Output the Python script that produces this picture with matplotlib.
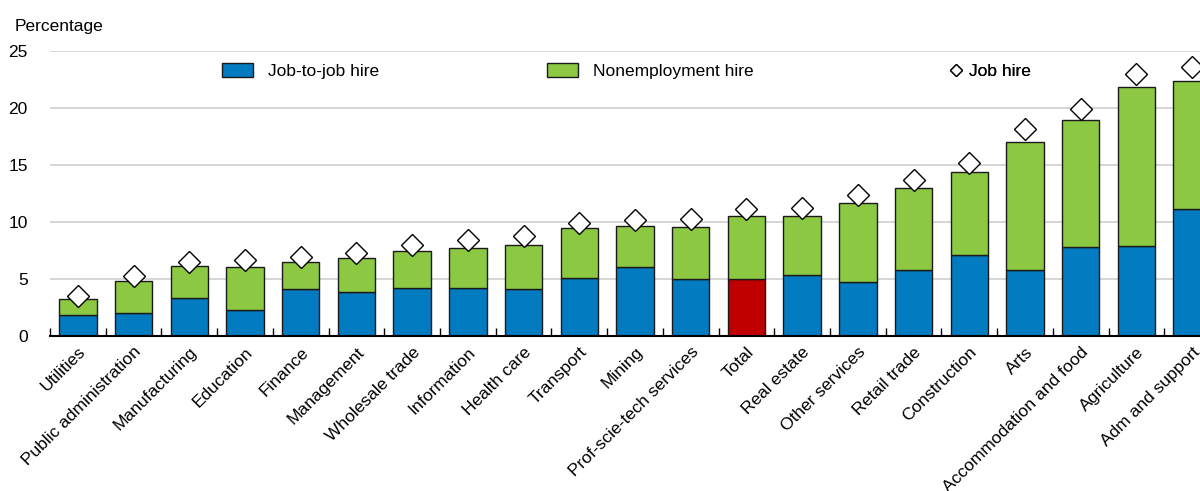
import numpy as np
import matplotlib
matplotlib.use("Agg")
import matplotlib.pyplot as plt
from matplotlib.lines import Line2D
from matplotlib.patches import Patch

plt.rcParams['font.family'] = ['Liberation Sans', 'DejaVu Sans']

categories = ["Utilities", "Public administration", "Manufacturing", "Education", "Finance",
	"Management", "Wholesale trade", "Information", "Health care", "Transport", "Mining",
	"Prof-scie-tech services", "Total", "Real estate", "Other services", "Retail trade",
	"Construction", "Arts", "Accommodation and food", "Agriculture", "Adm and support"]
job_to_job = [1.84, 2.05, 3.36, 2.25, 4.12, 3.89, 4.24, 4.18, 4.09, 5.06, 6.05,
	5.00, 5.02, 5.35, 4.76, 5.81, 7.13, 5.76, 7.83, 7.92, 11.13]
nonemployment = [1.40, 2.77, 2.77, 3.83, 2.34, 2.95, 3.24, 3.53, 3.91, 4.38, 3.59,
	4.58, 5.50, 5.20, 6.90, 7.19, 7.21, 11.27, 11.13, 13.90, 11.25]
job_hire = [3.50, 5.26, 6.49, 6.63, 6.92, 7.25, 7.95, 8.41, 8.74, 9.93, 10.17,
	10.25, 11.16, 11.19, 12.36, 13.67, 15.13, 18.17, 19.90, 23.00, 23.55]
yticks = [0, 5, 10, 15, 20, 25]

BLUE = '#037bc1'
GREEN = '#8cc841'
RED = '#c00000'
FS = 12.5

fig = plt.figure(figsize=(12, 4.91), dpi=100)
# axes runs past the right edge, as in the original (last bar is cut)
ax = fig.add_axes([50 / 1200, 155 / 491, 1170 / 1200, 285.3 / 491])

x = np.arange(len(categories))
colors = [RED if c == "Total" else BLUE for c in categories]
ax.bar(x, job_to_job, width=0.67, color=colors, edgecolor='#1a1a1a', linewidth=1, zorder=2)
ax.bar(x, nonemployment, width=0.67, bottom=job_to_job, color=GREEN,
	edgecolor='#1a1a1a', linewidth=1, zorder=2)
ax.plot(x, job_hire, 'D', ls='none', ms=11.5, mfc='white', mec='black', mew=1, zorder=3)

ax.set_xlim(-0.5, len(categories) - 0.5)
ax.set_ylim(0, 25)
ax.set_yticks(yticks)
ax.set_yticklabels([str(t) for t in yticks], fontsize=FS)
ax.tick_params(axis='y', length=0, pad=16)
ax.grid(axis='y', color='#d5d5d5', linewidth=1.4, zorder=0)
ax.set_axisbelow(True)

ax.set_xticks(x)
ax.set_xticklabels(categories, rotation=45, ha='right', rotation_mode='anchor', fontsize=FS)
ax.tick_params(axis='x', which='major', length=0, pad=6)
ax.set_xticks(np.arange(len(categories) + 1) - 0.5, minor=True)
ax.tick_params(axis='x', which='minor', direction='in', length=6, width=1, color='black')

for s in ['top', 'right', 'left']:
	ax.spines[s].set_visible(False)
ax.spines['bottom'].set_linewidth(1.5)
ax.spines['bottom'].set_color('black')
ax.spines['bottom'].set_zorder(4)

fig.text(15 / 1200, 1 - 27 / 491, "Percentage", fontsize=FS, va='center', ha='left')

# legend entries spread across the top, one legend each
leg_y = 1 - 71 / 491
entries = [
	(Patch(facecolor=BLUE, edgecolor='#1a1a1a'), "Job-to-job hire", 222, 1.8, 0.85),
	(Patch(facecolor=GREEN, edgecolor='#1a1a1a'), "Nonemployment hire", 547, 1.8, 0.85),
	(Line2D([], [], marker='D', ls='none', ms=6.5, mfc='white', mec='black', mew=1), "Job hire", 951, 0.6, 0.45),
]
for handle, label, xpos, hl, tp in entries:
	leg = ax.legend([handle], [label], loc='center left', bbox_to_anchor=(xpos / 1200, leg_y),
		bbox_transform=fig.transFigure, frameon=False, fontsize=FS, borderpad=0,
		borderaxespad=0, handlelength=hl, handleheight=0.9, handletextpad=tp)
	ax.add_artist(leg)

fig.savefig("out.png", dpi=100)
